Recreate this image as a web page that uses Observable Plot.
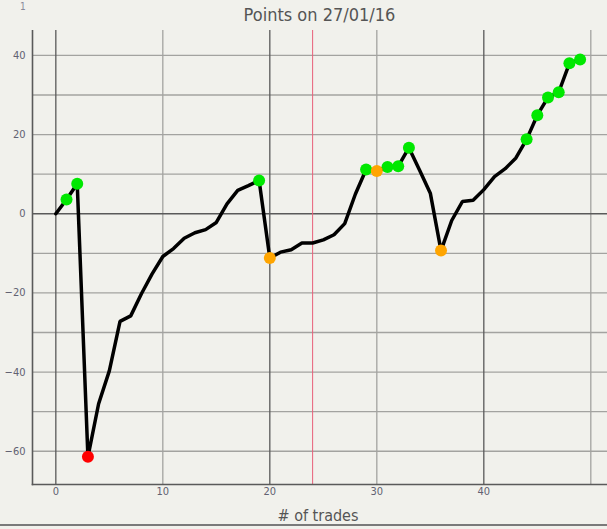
<!DOCTYPE html>
<html>
<head>
<meta charset="utf-8">
<script src="https://cdn.jsdelivr.net/npm/d3@7"></script>
<script src="https://cdn.jsdelivr.net/npm/@observablehq/plot@0.6"></script>
<style>
  body { margin: 0; background: #f1f1ec; font-family: "DejaVu Sans Condensed", "DejaVu Sans", sans-serif; }
  #wrap { position: relative; width: 607px; height: 529px; overflow: hidden; }
  #corner { position: absolute; left: 20px; top: 1px; font-size: 10px; color: #8a8a9a; }
  #title { position: absolute; left: 32px; width: 575px; top: 0; height: 30px; line-height: 30px; text-align: center; font-size: 18px; color: #555; }
  #chart { position: absolute; left: 0; top: 30px; }
  #rule { position: absolute; left: 0; top: 524px; width: 607px; height: 0; border-top: 2px solid #7a7a7a; }
</style>
</head>
<body>
<div id="wrap">
  <div id="corner">1</div>
  <div id="title">Points on 27/01/16</div>
  <div id="chart"></div>
  <div id="rule"></div>
</div>
<script>
// running points after each trade (index = trade number)
const points = [
  0, 3.6, 7.6, -61.4, -48, -39.7, -27.2, -25.8, -20.2, -15.2,
  -10.8, -8.8, -6.2, -4.8, -4.0, -2.2, 2.5, 5.9, 7.1, 8.4,
  -11.2, -9.7, -9.1, -7.4, -7.4, -6.6, -5.3, -2.5, 5.0, 11.2,
  10.8, 11.8, 12.0, 16.7, 11.0, 5.2, -9.3, -1.7, 3.1, 3.4,
  6.1, 9.4, 11.4, 14.1, 18.8, 24.9, 29.4, 30.7, 38.0, 39.0
];
const winTrades = [1, 2, 19, 29, 31, 32, 33, 44, 45, 46, 47, 48, 49];
const lossTrades = [20, 30, 36];
const bigLossTrades = [3];
const markTrades = [24];

const xTicks = [0, 10, 20, 30, 40];
const xMajor = [0, 20, 40];
const xMinor = [10, 30, 50];
const yTicks = [-60, -40, -20, 0, 20, 40];
const yGrid = [-60, -50, -40, -30, -20, -10, 10, 20, 30, 40];

const rows = points.map((p, i) => ({trade: i, points: p}));
const pick = idx => idx.map(i => rows[i]);

const chart = Plot.plot({
  width: 607,
  height: 495,
  marginTop: 0,
  marginLeft: 32,
  marginRight: 0,
  marginBottom: 41,
  x: {domain: [-2.18, 51.56], label: null},
  y: {domain: [-68.4, 46.3], label: null},
  style: {
    background: "transparent",
    fontFamily: "DejaVu Sans Condensed, DejaVu Sans, sans-serif",
    fontSize: 11,
    color: "#626272"
  },
  marks: [
    Plot.ruleY(yGrid, {stroke: "#a3a3a0", strokeWidth: 1.3}),
    Plot.ruleX(xMinor, {stroke: "#a3a3a0", strokeWidth: 1.3}),
    Plot.ruleX(xMajor, {stroke: "#5a5a5a", strokeWidth: 1.3}),
    Plot.ruleY([0], {stroke: "#5a5a5a", strokeWidth: 1.3}),
    Plot.ruleX(markTrades, {stroke: "#e8607a", strokeWidth: 1}),
    Plot.frame({anchor: "left", stroke: "#5a5a5a", strokeWidth: 1.6}),
    Plot.frame({anchor: "bottom", stroke: "#5a5a5a", strokeWidth: 1.6}),
    Plot.axisX({ticks: xTicks, tickSize: 0, tickPadding: 3, label: null}),
    Plot.axisY({ticks: yTicks, tickSize: 0, tickPadding: 7, label: null}),
    Plot.line(rows, {x: "trade", y: "points", stroke: "black", strokeWidth: 3.5, strokeLinejoin: "miter"}),
    Plot.dot(pick(winTrades), {x: "trade", y: "points", r: 6, fill: "#00e800"}),
    Plot.dot(pick(lossTrades), {x: "trade", y: "points", r: 6, fill: "#ffa500"}),
    Plot.dot(pick(bigLossTrades), {x: "trade", y: "points", r: 6, fill: "#ff0000"}),
    Plot.text(["# of trades"], {frameAnchor: "bottom", dy: 36, dx: -2, fontSize: 16, fill: "#555"})
  ]
});
document.getElementById("chart").append(chart);
</script>
</body>
</html>
